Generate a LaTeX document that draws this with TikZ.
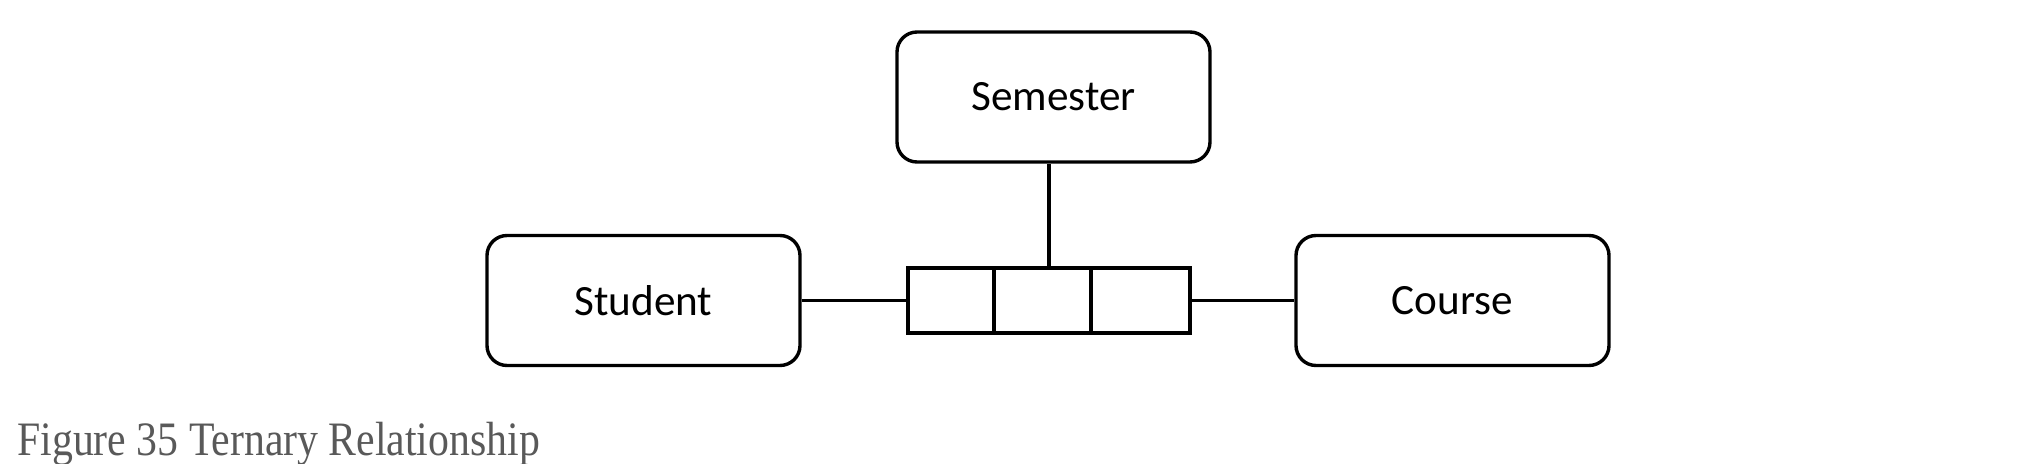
\documentclass[tikz,border=0pt]{standalone}
\usepackage{fontspec}
\setmainfont{Liberation Serif}
\newfontfamily\boxfont{Carlito}
\definecolor{capgray}{HTML}{595959}
\begin{document}
\begin{tikzpicture}[x=0.5pt,y=-0.5pt,
  entity/.style={draw, line width=1.7pt, rounded corners=10pt, minimum width=156.5pt, minimum height=65pt, inner sep=0pt, font=\boxfont\fontsize{21.6}{26}\selectfont},
  relbox/.style={draw, line width=1.7pt, minimum width=141pt, minimum height=32.5pt, inner sep=0pt},
  conn/.style={line width=1.7pt}]
\useasboundingbox (0,0) rectangle (2024,464);
\node[entity] (sem) at (1053.5,97) {Semester};
\node[entity] (stu) at (643.5,300.5) {Student};
\node[entity] (crs) at (1452.5,300.5) {Course};
\node[relbox] (rel) at (1049,300.5) {};
\coordinate (d1) at (994,300.5);
\coordinate (d2) at (1091,300.5);
\draw[conn] (d1 |- rel.north) -- (d1 |- rel.south);
\draw[conn] (d2 |- rel.north) -- (d2 |- rel.south);
\draw[conn] (stu.east) -- (rel.west);
\draw[conn] (rel.east) -- (crs.west);
\draw[conn] (rel.north) -- (rel.north |- sem.south);
\node[anchor=base west, inner sep=0pt, text=capgray, font=\fontsize{24}{28}\selectfont] (cap) at (17,456) {\scalebox{0.87}[1]{Figure 35 Ternary Relationship}};
\end{tikzpicture}
\end{document}
